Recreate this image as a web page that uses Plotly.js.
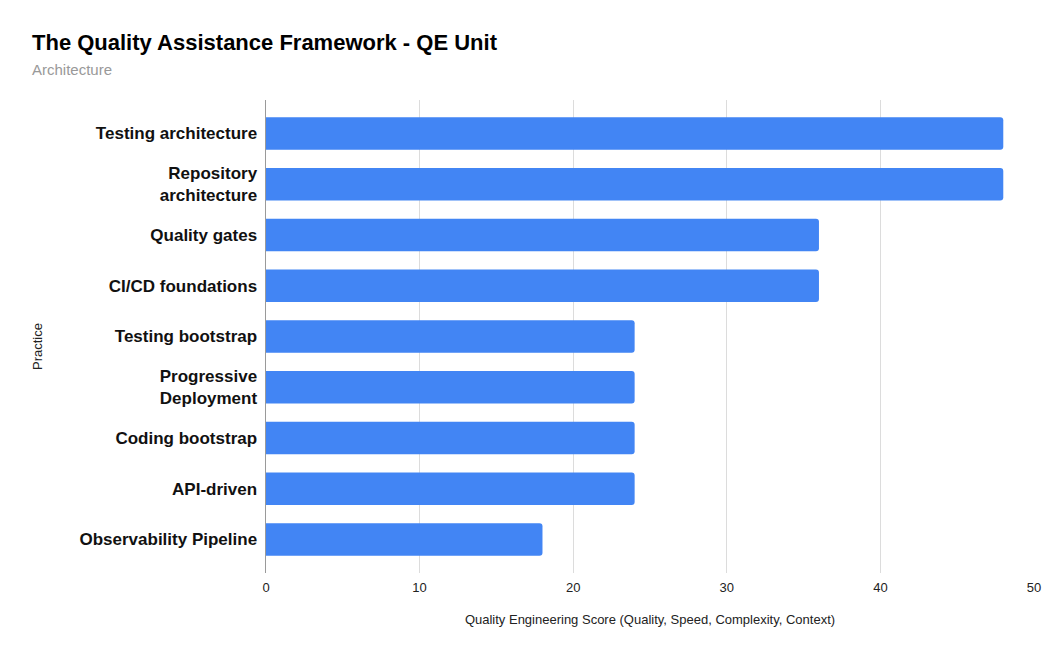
<!DOCTYPE html>
<html>
<head>
<meta charset="utf-8">
<script src="https://cdn.plot.ly/plotly-3.0.1.min.js"></script>
<style>html,body{margin:0;padding:0;background:#fff;}#chart{width:1062px;height:657px;}</style>
</head>
<body>
<div id="chart"></div>
<script>
const practices = [
  "Testing architecture",
  "Repository<br>architecture",
  "Quality gates",
  "CI/CD foundations",
  "Testing bootstrap",
  "Progressive<br>Deployment",
  "Coding bootstrap",
  "API-driven",
  "Observability Pipeline"
];
const scores = [48, 48, 36, 36, 24, 24, 24, 24, 18];
const xTicks = [0, 10, 20, 30, 40, 50];

const trace = {
  type: 'bar',
  orientation: 'h',
  y: practices,
  x: scores,
  marker: {color: '#4285F4'},
  hoverinfo: 'x+y'
};

const layout = {
  width: 1062,
  height: 657,
  margin: {l: 266, r: 28, t: 100, b: 84},
  paper_bgcolor: '#ffffff',
  plot_bgcolor: '#ffffff',
  font: {family: '"Liberation Sans", Arial, sans-serif', color: '#222'},
  bargap: 0.355,
  barcornerradius: 3,
  showlegend: false,
  xaxis: {
    range: [0, 50],
    tickvals: xTicks,
    ticktext: xTicks.map(String),
    showgrid: true,
    gridcolor: '#dcdcdc',
    gridwidth: 1,
    zeroline: false,
    showline: false,
    ticks: '',
    ticklabelstandoff: 5,
    tickfont: {size: 13, color: '#222'},
    title: {text: 'Quality Engineering Score (Quality, Speed, Complexity, Context)', font: {size: 13, color: '#222'}, standoff: 20}
  },
  yaxis: {
    type: 'category',
    range: [8.66, -0.66],
    showgrid: false,
    zeroline: false,
    showline: true,
    linecolor: '#9a9a9a',
    linewidth: 1.5,
    ticks: '',
    ticklabelstandoff: 4,
    tickfont: {size: 17, color: '#111', weight: 'bold'}
  },
  annotations: [
    {text: '<b>The Quality Assistance Framework - QE Unit</b>', xref: 'paper', yref: 'paper',
     x: (30 - 266) / 768, y: 1 + (100 - 43) / 473, xanchor: 'left', yanchor: 'middle',
     showarrow: false, font: {size: 22, color: '#000'}},
    {text: 'Architecture', xref: 'paper', yref: 'paper',
     x: (30 - 266) / 768, y: 1 + (100 - 70) / 473, xanchor: 'left', yanchor: 'middle',
     showarrow: false, font: {size: 15, color: '#999'}},
    {text: 'Practice', xref: 'paper', yref: 'paper', textangle: -90,
     x: (37 - 266) / 768, y: 1 - (347 - 100) / 473, xanchor: 'center', yanchor: 'middle',
     showarrow: false, font: {size: 13, color: '#222'}}
  ]
};

Plotly.newPlot('chart', [trace], layout, {displayModeBar: false, staticPlot: true});
</script>
</body>
</html>
